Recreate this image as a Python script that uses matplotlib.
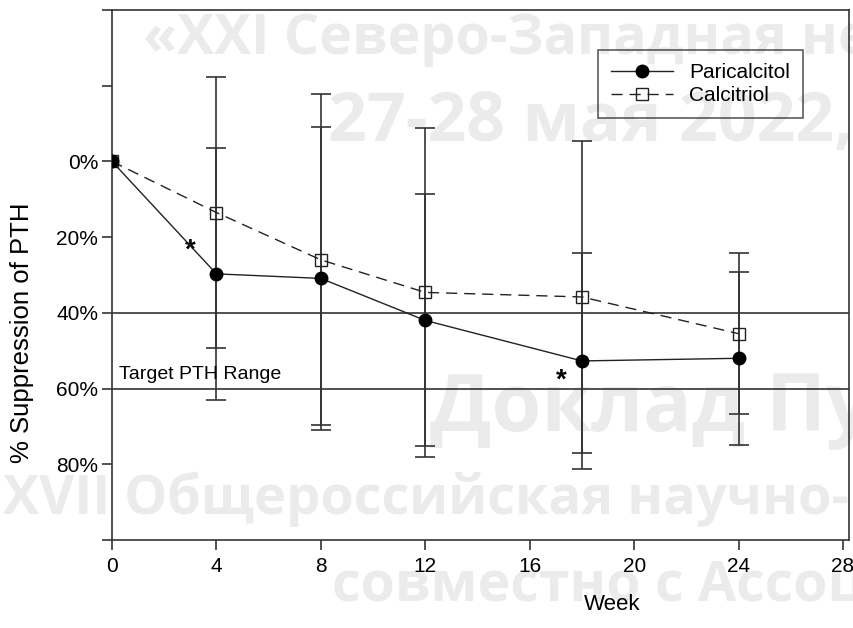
import matplotlib
matplotlib.use("Agg")
import matplotlib.pyplot as plt

plt.rcParams['font.family'] = ['Liberation Sans', 'DejaVu Sans']

# ---- data ----
weeks = [0, 4, 8, 12, 18, 24]
paricalcitol = [0, 29.7, 30.9, 42.0, 52.7, 52.0]
paricalcitol_err = [0, 33.2, 40.0, 33.3, 28.6, 22.8]
calcitriol = [0, 13.5, 26.0, 34.6, 35.8, 45.5]
calcitriol_err = [0, 35.7, 43.7, 43.5, 41.3, 21.3]
target_range = [40, 60]
star_points = [(3.0, 23.5), (17.2, 58.0)]
x_ticks = [0, 4, 8, 12, 16, 20, 24, 28]
y_ticks = [-40, -20, 0, 20, 40, 60, 80, 100]
y_labeled = [0, 20, 40, 60, 80]

watermark = [
    ("«XXI Северо-Западная не", 143, 54, 40),
    ("27-28 мая 2022,", 328, 141, 49),
    ("Доклад Пу", 430, 431, 58),
    ("XVII Общероссийская научно-", 3, 514, 39),
    ("совместно с Ассоц", 332, 601, 40),
]

W, H = 854, 628
fig = plt.figure(figsize=(W / 100, H / 100), dpi=100)
ax = fig.add_axes([112 / W, 1 - 540 / H, (849 - 112) / W, (540 - 10) / H])

dark = '#222222'

# watermark
for txt, x, y, fs in watermark:
    ax.text(x / W, 1 - y / H, txt, transform=fig.transFigure, fontsize=fs,
            family=['Open Sans', 'DejaVu Sans'], fontweight='bold',
            color='#ebebeb', ha='left', va='baseline', zorder=0.5, clip_on=False)

# target range lines
for t in target_range:
    ax.axhline(t, color=dark, lw=1.1, zorder=1)

# error bars
ax.errorbar(weeks[1:], calcitriol[1:], yerr=calcitriol_err[1:], fmt='none',
            ecolor='#333333', elinewidth=1.2, capsize=7, capthick=1.2, zorder=2)
ax.errorbar(weeks[1:], paricalcitol[1:], yerr=paricalcitol_err[1:], fmt='none',
            ecolor='#333333', elinewidth=1.2, capsize=7, capthick=1.2, zorder=2)

# series
ax.plot(weeks, calcitriol, color=dark, lw=1.0, dashes=(8, 5), marker='s',
        markersize=9, markerfacecolor='none', markeredgecolor=dark,
        markeredgewidth=1.0, label='Calcitriol', zorder=3)
ax.plot(weeks, paricalcitol, color=dark, lw=1.0, marker='o', markersize=9,
        markerfacecolor='black', markeredgecolor='black',
        label='Paricalcitol', zorder=4)

for sx, sy in star_points:
    ax.text(sx, sy, '*', fontsize=20, fontweight='bold', ha='center',
            va='center', color='black')

ax.text(0.25, 57.6, 'Target PTH Range', fontsize=14, ha='left',
        va='baseline', color='black')

ax.set_xlim(0, (849 - 112) / ((843 - 112) / 28))
ax.set_ylim(100, -40)
ax.set_xticks(x_ticks)
ax.set_xticklabels([str(v) for v in x_ticks])
ax.set_yticks(y_ticks)
ax.set_yticklabels([f'{v}%' if v in y_labeled else '' for v in y_ticks])
ax.tick_params(axis='both', direction='out', length=7, width=1.2,
               color='#333333', labelsize=15, labelcolor='black')
ax.tick_params(axis='x', pad=5)
ax.tick_params(axis='y', pad=3)
for s in ax.spines.values():
    s.set_color('#333333')
    s.set_linewidth(1.2)

ax.set_xlabel('Week', fontsize=16)
ax.xaxis.set_label_coords((612 - 112) / 737, (540 - 594) / 530)
ax.set_ylabel('% Suppression of PTH', fontsize=18.5)
ax.yaxis.set_label_coords((34 - 112) / 737, (540 - 333) / 530)

handles, labels = ax.get_legend_handles_labels()
leg = ax.legend([handles[1], handles[0]], [labels[1], labels[0]],
                loc='upper right', bbox_to_anchor=((803 - 112) / 737, (540 - 50) / 530),
                borderaxespad=0, fontsize=15, fancybox=False, frameon=True,
                handlelength=2.95, handletextpad=0.8, labelspacing=0.2,
                borderpad=0.62, facecolor='none')
leg.get_frame().set_edgecolor('#222222')
leg.get_frame().set_linewidth(1.1)
leg.set_zorder(5)

fig.savefig('out.png', dpi=100)
